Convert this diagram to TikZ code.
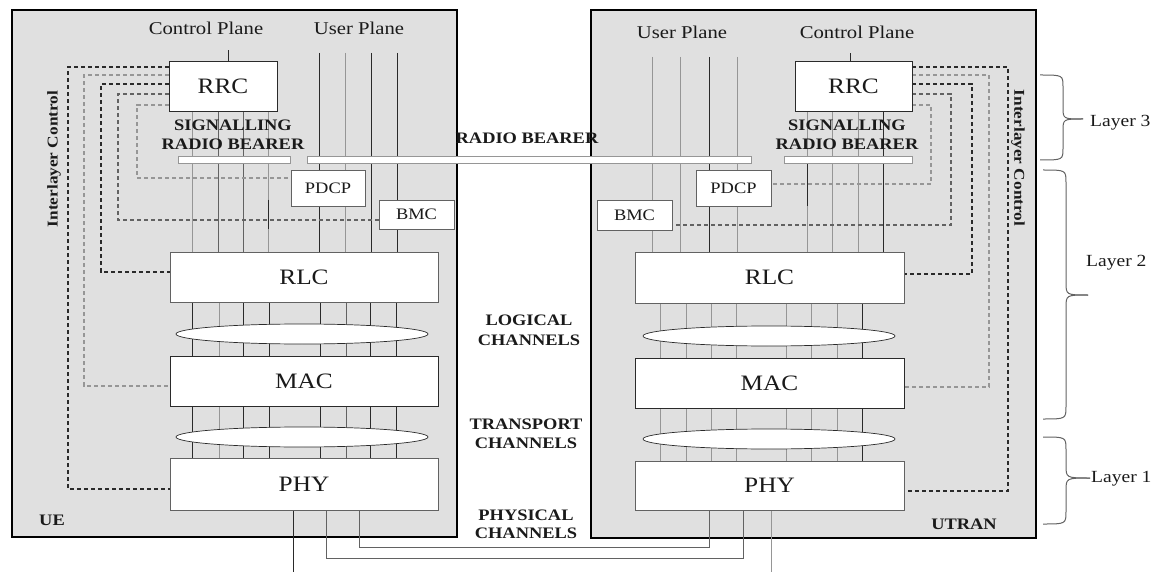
\documentclass[tikz,border=0pt]{standalone}
\usepackage{fontspec}
\setmainfont{Liberation Serif}[FakeStretch=1.15]
\usetikzlibrary{shapes.geometric}
\definecolor{boxgray}{HTML}{E0E0E0}
\definecolor{dk}{HTML}{2A2A2A}
\definecolor{md}{HTML}{626262}
\definecolor{lt}{HTML}{969696}
\definecolor{tx}{HTML}{1A1A1A}
\pgfdeclarelayer{bg}
\pgfdeclarelayer{lines}
\pgfsetlayers{bg,lines,main}
\begin{document}
\begin{tikzpicture}[x=1pt,y=-1pt,
  outer/.style={draw=black, line width=2.6pt, fill=boxgray, inner sep=0pt},
  blk/.style={draw=md, fill=white, line width=0.9pt, inner sep=0pt, text=tx, font=\fontsize{22}{24}\selectfont},
  sblk/.style={blk, font=\fontsize{16}{18}\selectfont},
  bar/.style={draw=lt, fill=white, line width=0.8pt, inner sep=0pt, minimum height=7pt},
  ell/.style={ellipse, draw=dk, fill=white, line width=0.7pt, inner sep=0pt, minimum width=252pt, minimum height=20pt},
  lbl/.style={inner sep=0pt, text=tx, anchor=base, font=\bfseries\fontsize{16}{18}\selectfont},
  plane/.style={inner sep=0pt, text=tx, anchor=base, font=\fontsize{18}{20}\selectfont},
  lay/.style={inner sep=0pt, text=tx, anchor=base west, font=\fontsize{17}{19}\selectfont},
  ch/.style={line width=1pt},
  dsh/.style={dash pattern=on 4pt off 3pt, line width=1.1pt},
  brc/.style={draw=md, line width=1pt}
]
\useasboundingbox (0,0) rectangle (1154,572);

% outer boxes
\begin{pgfonlayer}{bg}
\node[outer, minimum width=445pt, minimum height=527pt] (ue) at (234.5,273.5) {};
\node[outer, minimum width=445pt, minimum height=528pt] (utran) at (813.5,274) {};
\end{pgfonlayer}

\coordinate (topL) at (0,53);
\coordinate (topR) at (0,57);
\coordinate (botm) at (0,572);

% left stack
\node[blk, minimum width=108pt, minimum height=50pt, draw=dk] (rrcL) at (223,86) {RRC};
\node[bar, minimum width=112pt] (sigL) at (234,159.5) {};
\node[bar, minimum width=444pt] (rb) at (529,159.5) {};
\node[sblk, minimum width=74pt, minimum height=36pt] (pdcpL) at (328,188) {PDCP};
\node[sblk, minimum width=75pt, minimum height=29pt] (bmcL) at (416.5,214.5) {BMC};
\node[blk, minimum width=268pt, minimum height=50pt] (rlcL) at (304,277) {RLC};
\node[ell] (lcL) at (302,334) {};
\node[blk, minimum width=268pt, minimum height=50pt, draw=dk] (macL) at (304,381) {MAC};
\node[ell] (tcL) at (302,437) {};
\node[blk, minimum width=268pt, minimum height=52pt] (phyL) at (304,484) {PHY};

% right stack
\node[blk, minimum width=117pt, minimum height=50pt, draw=dk] (rrcR) at (853.5,86) {RRC};
\node[bar, minimum width=128pt] (sigR) at (848,159.5) {};
\node[sblk, minimum width=75pt, minimum height=36pt] (pdcpR) at (733.5,188) {PDCP};
\node[sblk, minimum width=75pt, minimum height=30pt] (bmcR) at (634.5,215) {BMC};
\node[blk, minimum width=269pt, minimum height=51pt] (rlcR) at (769.5,277.5) {RLC};
\node[ell] (lcR) at (769,336) {};
\node[blk, minimum width=269pt, minimum height=50pt, draw=dk] (macR) at (769.5,383) {MAC};
\node[ell] (tcR) at (769,439) {};
\node[blk, minimum width=269pt, minimum height=49pt] (phyR) at (769.5,485.5) {PHY};

\begin{pgfonlayer}{lines}
% control plane entry
\draw[ch,dk] (rrcL.north -| 228,0) -- ++(0,-11);
\draw[ch,dk] (rrcR.north -| 850,0) -- ++(0,-8);
% left upper channels
\foreach \xx/\cc in {192/lt,218/md,243/md,268/lt}
  \draw[ch,\cc] (rrcL.south -| \xx,0) -- (rlcL.north -| \xx,0);
\draw[ch,dk] (bmcL.north -| 268,0) -- (bmcL.south -| 268,0);
\foreach \xx/\cc in {319/dk,345/lt,371/dk,397/dk}
  \draw[ch,\cc] (topL -| \xx,0) -- (rlcL.north -| \xx,0);
% right upper channels
\foreach \xx/\cc in {652/lt,680/lt,709/dk,737/lt}
  \draw[ch,\cc] (topR -| \xx,0) -- (rlcR.north -| \xx,0);
\foreach \xx/\cc in {807/lt,832/lt,858/lt,883/dk}
  \draw[ch,\cc] (rrcR.south -| \xx,0) -- (rlcR.north -| \xx,0);
\draw[ch,dk] (sigR.south -| 807,0) -- (pdcpR.south -| 807,0);
% lower channels
\foreach \dd/\cc in {23/dk,50/lt,74/dk,100/dk,151/dk,177/md,201/dk,227/dk}{
  \draw[ch,\cc] ([xshift=\dd pt]rlcL.south west) -- ([xshift=\dd pt]macL.north west);
  \draw[ch,\cc] ([xshift=\dd pt]macL.south west) -- ([xshift=\dd pt]phyL.north west);
}
\foreach \dd/\cc in {26/lt,52/lt,77/lt,102/lt,152/lt,177/lt,203/lt,228/dk}{
  \draw[ch,\cc] ([xshift=\dd pt]rlcR.south west) -- ([xshift=\dd pt]macR.north west);
  \draw[ch,\cc] ([xshift=\dd pt]macR.south west) -- ([xshift=\dd pt]phyR.north west);
}
% physical channels
\draw[ch,dk] (phyL.south -| 293,0) -- (botm -| 293,0);
\draw[ch,md] (phyL.south -| 359,0) -- (359,547) -- (709,547) -- (phyR.south -| 709,0);
\draw[ch,md] (phyL.south -| 326,0) -- (326,558) -- (743,558) -- (phyR.south -| 743,0);
\draw[ch,lt] (phyR.south -| 771,0) -- (botm -| 771,0);
% interlayer control, left
\draw[dsh,dk] (rrcL.west |- 0,67) -- (68,67) -- (68,489) -- (phyL.west |- 0,489);
\draw[dsh,lt] (rrcL.west |- 0,75) -- (84,75) -- (84,386) -- (macL.west |- 0,386);
\draw[dsh,dk] (rrcL.west |- 0,84) -- (101,84) -- (101,272) -- (rlcL.west |- 0,272);
\draw[dsh,md] (rrcL.west |- 0,94) -- (118,94) -- (118,220) -- (bmcL.west |- 0,220);
\draw[dsh,lt] (rrcL.west |- 0,105) -- (137,105) -- (137,178) -- (pdcpL.west |- 0,178);
% interlayer control, right
\draw[dsh,dk] (rrcR.east |- 0,67) -- (1008,67) -- (1008,491) -- (phyR.east |- 0,491);
\draw[dsh,lt] (rrcR.east |- 0,75) -- (989,75) -- (989,387) -- (macR.east |- 0,387);
\draw[dsh,dk] (rrcR.east |- 0,84) -- (972,84) -- (972,274) -- (rlcR.east |- 0,274);
\draw[dsh,md] (rrcR.east |- 0,94) -- (951,94) -- (951,225) -- (bmcR.east |- 0,225);
\draw[dsh,lt] (rrcR.east |- 0,105) -- (931,105) -- (931,184) -- (pdcpR.east |- 0,184);
\end{pgfonlayer}

% labels
\node[plane] (cpL) at (206,35) {Control Plane};
\node[plane] (upL) at (359,35) {User Plane};
\node[plane] (upR) at (682,39) {User Plane};
\node[plane] (cpR) at (857,39) {Control Plane};
\node[lbl] (s1L) at (233,131) {SIGNALLING};
\node[lbl] (s2L) at (233,150) {RADIO BEARER};
\node[lbl] (s1R) at (847,131) {SIGNALLING};
\node[lbl] (s2R) at (847,150) {RADIO BEARER};
\node[lbl] (rbl) at (527,144) {RADIO BEARER};
\node[lbl] (lg1) at (529,325) {LOGICAL};
\node[lbl] (lg2) at (529,345) {CHANNELS};
\node[lbl] (tr1) at (526,429) {TRANSPORT};
\node[lbl] (tr2) at (526,448) {CHANNELS};
\node[lbl] (ph1) at (526,520) {PHYSICAL};
\node[lbl] (ph2) at (526,538) {CHANNELS};
\node[lbl] (uel) at (52,525) {UE};
\node[lbl] (utl) at (964,529) {UTRAN};
\node[lbl, anchor=center, rotate=90, font=\bfseries\fontsize{15}{17}\selectfont] (ilL) at (54,159) {Interlayer Control};
\node[lbl, anchor=center, rotate=-90, font=\bfseries\fontsize{15}{17}\selectfont] (ilR) at (1018,158) {Interlayer Control};

% layer braces
\draw[brc] (1040,75) .. controls (1063,75) .. (1063,87) -- (1063,107) .. controls (1063,119) .. (1083,119);
\draw[brc] (1083,119) .. controls (1063,119) .. (1063,131) -- (1063,148) .. controls (1063,160) .. (1040,160);
\draw[brc] (1043,170) .. controls (1066,170) .. (1066,183) -- (1066,282) .. controls (1066,295) .. (1088,295);
\draw[brc] (1088,295) .. controls (1066,295) .. (1066,308) -- (1066,406) .. controls (1066,419) .. (1043,419);
\draw[brc] (1043,437) .. controls (1066,437) .. (1066,450) -- (1066,465) .. controls (1066,478) .. (1090,478);
\draw[brc] (1090,478) .. controls (1066,478) .. (1066,491) -- (1066,511) .. controls (1066,524) .. (1043,524);
\node[lay] (l3) at (1090,127) {Layer 3};
\node[lay] (l2) at (1086,266) {Layer 2};
\node[lay] (l1) at (1091,482) {Layer 1};
\end{tikzpicture}
\end{document}
